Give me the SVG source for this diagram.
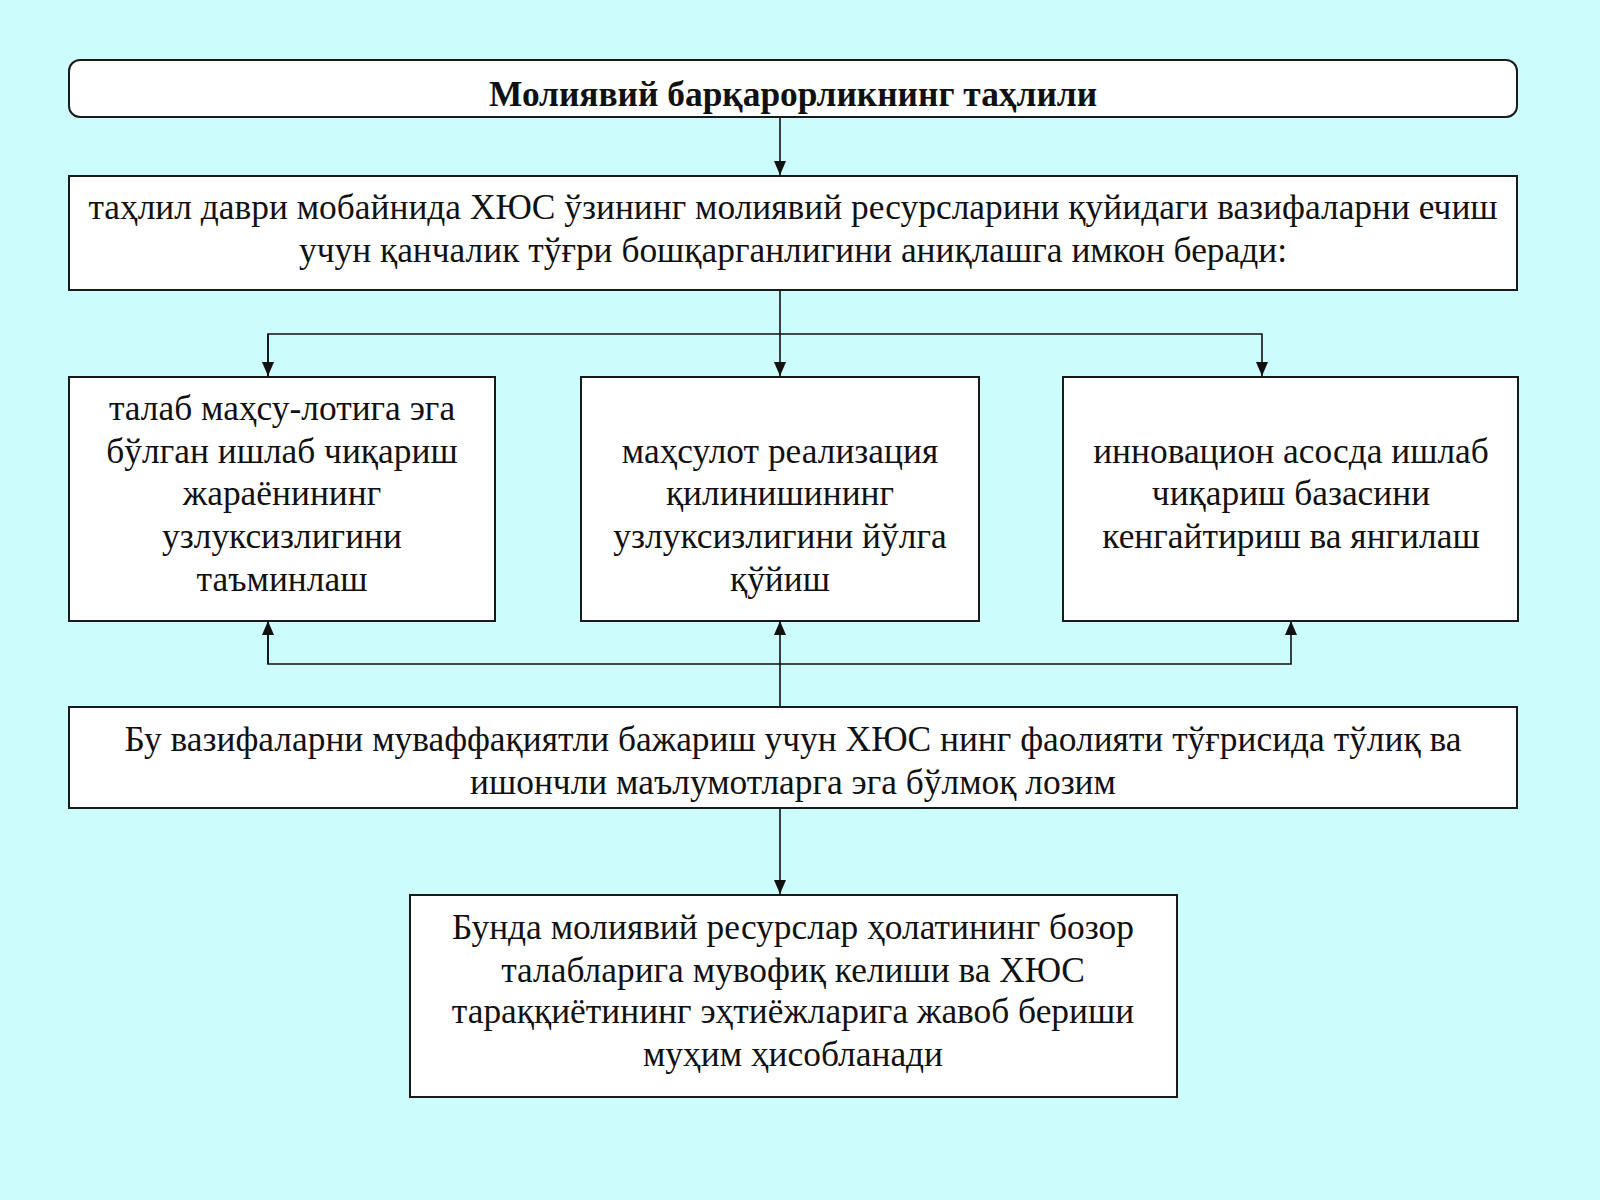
<svg xmlns="http://www.w3.org/2000/svg" width="1600" height="1200" viewBox="0 0 1600 1200">
<defs>
<style>
.bx{fill:#ffffff;stroke:#1a1a1a;stroke-width:2}
.t{font-family:"Liberation Serif","Times New Roman",serif;font-size:35.4px;fill:#111;text-anchor:middle}
.b{font-weight:bold}
.c{fill:none;stroke:#111;stroke-width:1.6}
</style>
<marker id="ah" viewBox="0 0 14 12" refX="14" refY="6" markerWidth="14" markerHeight="12" markerUnits="userSpaceOnUse" orient="auto">
<path d="M0,0 L14,6 L0,12 Z" fill="#111"/>
</marker>
</defs>
<rect width="1600" height="1200" fill="#ccfcfc"/>
<g id="connectors">
<line class="c" x1="780" y1="117" x2="780" y2="175" marker-end="url(#ah)"/>
<line class="c" x1="780" y1="290" x2="780" y2="376" marker-end="url(#ah)"/>
<polyline class="c" points="268,376 268,334 1262,334 1262,376" marker-end="url(#ah)"/>
<line class="c" x1="268" y1="334" x2="268" y2="376" marker-end="url(#ah)"/>
<line class="c" x1="780" y1="707" x2="780" y2="621" marker-end="url(#ah)"/>
<polyline class="c" points="268,621 268,664 1291,664 1291,621" marker-end="url(#ah)"/>
<line class="c" x1="268" y1="664" x2="268" y2="621" marker-end="url(#ah)"/>
<line class="c" x1="780" y1="808" x2="780" y2="894" marker-end="url(#ah)"/>
</g>
<g id="title">
<rect class="bx" x="69" y="60" width="1448" height="57" rx="11"/>
<text class="t b" x="793" y="106">Молиявий барқарорликнинг таҳлили</text>
</g>
<g id="intro">
<rect class="bx" x="69" y="176" width="1448" height="114"/>
<text class="t" x="793" y="219">таҳлил даври мобайнида ХЮС ўзининг молиявий ресурсларини қуйидаги вазифаларни ечиш</text>
<text class="t" x="793" y="262">учун қанчалик тўғри бошқарганлигини аниқлашга имкон беради:</text>
</g>
<g id="task1">
<rect class="bx" x="69" y="377" width="426" height="244"/>
<text class="t" x="282" y="420">талаб маҳсу-лотига эга</text>
<text class="t" x="282" y="463">бўлган ишлаб чиқариш</text>
<text class="t" x="282" y="505">жараёнининг</text>
<text class="t" x="282" y="548">узлуксизлигини</text>
<text class="t" x="282" y="591">таъминлаш</text>
</g>
<g id="task2">
<rect class="bx" x="581" y="377" width="398" height="244"/>
<text class="t" x="780" y="463">маҳсулот реализация</text>
<text class="t" x="780" y="505">қилинишининг</text>
<text class="t" x="780" y="548">узлуксизлигини йўлга</text>
<text class="t" x="780" y="591">қўйиш</text>
</g>
<g id="task3">
<rect class="bx" x="1063" y="377" width="455" height="244"/>
<text class="t" x="1291" y="463">инновацион асосда ишлаб</text>
<text class="t" x="1291" y="505">чиқариш базасини</text>
<text class="t" x="1291" y="548">кенгайтириш ва янгилаш</text>
</g>
<g id="info">
<rect class="bx" x="69" y="707" width="1448" height="101"/>
<text class="t" x="793" y="751">Бу вазифаларни муваффақиятли бажариш учун ХЮС нинг фаолияти тўғрисида тўлиқ ва</text>
<text class="t" x="793" y="794">ишончли маълумотларга эга бўлмоқ лозим</text>
</g>
<g id="conclusion">
<rect class="bx" x="410" y="895" width="767" height="202"/>
<text class="t" x="793" y="939">Бунда молиявий ресурслар ҳолатининг бозор</text>
<text class="t" x="793" y="982">талабларига мувофиқ келиши ва ХЮС</text>
<text class="t" x="793" y="1023">тараққиётининг эҳтиёжларига жавоб бериши</text>
<text class="t" x="793" y="1066">муҳим ҳисобланади</text>
</g>
</svg>
